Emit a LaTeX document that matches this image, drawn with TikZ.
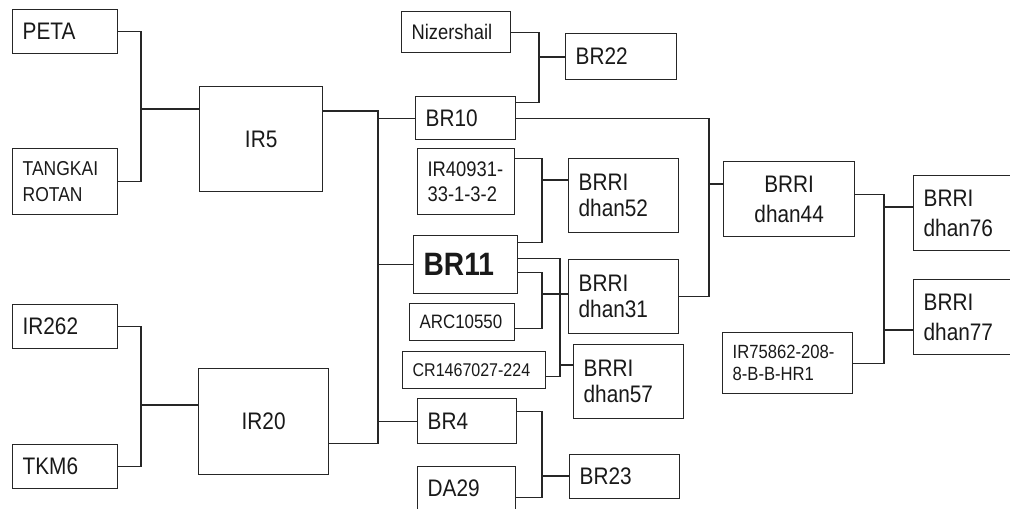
\documentclass[tikz,border=0pt]{standalone}
\usepackage{fontspec}
\setmainfont{Liberation Sans}[FakeStretch=0.87]
\usetikzlibrary{positioning,calc}
\newlength\pxu
\setlength\pxu{0.7113pt}
\newcommand\fs[2]{\fontsize{#1}{#2}\selectfont}
\tikzset{
  cell/.style 2 args={draw=black!85,line width=0.9pt,anchor=north west,align=left,text=black!90,
    inner xsep=10*\pxu,inner ysep=0pt,minimum width=#1*\pxu,minimum height=#2*\pxu,
    text width=(#1-20)*\pxu,font=\fs{17}{18.5}},
  link/.style={draw=black!85,line width=0.8pt},
}

\begin{document}
\begin{tikzpicture}[x=0.025cm,y=-0.025cm]
  \useasboundingbox (0,0) rectangle (1010,508);
  \clip (0,0) rectangle (1010,508);
  % parents
  \node[cell={105}{44}] (peta) at (12,9) {PETA};
  \node[cell={105}{66},font=\fs{14.3}{18.5}] (tangkai) at (12,148) {TANGKAI\\ROTAN};
  \node[cell={105}{44}] (ir262) at (12,304) {IR262};
  \node[cell={105}{44}] (tkm6) at (12,444) {TKM6};
  \node[cell={123}{105},align=center] (ir5) at (199,86) {IR5};
  \node[cell={130}{106},align=center] (ir20) at (198,368) {IR20};
  % middle column
  \node[cell={109}{41},font=\fs{15}{16}] (nizer) at (401,11) {Nizershail};
  \node[cell={100}{43}] (br10) at (415,96) {BR10};
  \node[cell={97}{66},font=\fs{15}{18}] (ir40931) at (417,148) {IR40931-\\33-1-3-2};
  \node[cell={104}{58},font=\bfseries\fs{23}{24}] (br11) at (413,235) {BR11};
  \node[cell={105}{37},font=\fs{13.8}{15}] (arc) at (409,303) {ARC10550};
  \node[cell={143}{37},font=\fs{13.1}{14}] (cr) at (402,351) {CR1467027-224};
  \node[cell={99}{45}] (br4) at (417,398) {BR4};
  \node[cell={98}{44}] (da29) at (417,466) {DA29};
  % varieties
  \node[cell={111}{46}] (br22) at (565,33) {BR22};
  \node[cell={110}{74}] (dhan52) at (568,158) {BRRI\\dhan52};
  \node[cell={110}{74}] (dhan31) at (568,259) {BRRI\\dhan31};
  \node[cell={110}{74}] (dhan57) at (573,344) {BRRI\\dhan57};
  \node[cell={110}{44}] (br23) at (569,454) {BR23};
  \node[cell={131}{75},align=center,font=\fs{17}{21}] (dhan44) at (723,161) {BRRI\\dhan44};
  \node[cell={130}{61},font=\fs{13.6}{15.5}] (ir75862) at (722,332) {IR75862-208-\\8-B-B-HR1};
  \node[cell={102}{75},font=\fs{17}{21}] (dhan76) at (913,175) {BRRI\\dhan76};
  \node[cell={102}{75},font=\fs{17}{21}] (dhan77) at (913,279) {BRRI\\dhan77};

  % crosses
  \coordinate (ja) at (141,109);
  \draw[link] (peta.east) -| (ja) |- (tangkai.east);
  \draw[link] (ja) -- (ir5.west |- ja);
  \coordinate (jb) at (141,405);
  \draw[link] (ir262.east) -| (jb) |- (tkm6.east);
  \draw[link] (jb) -- (ir20.west |- jb);
  \coordinate (jc) at (378,262);
  \draw[link] ([yshift=20pt]ir5.east) -| (jc) |- ([yshift=-15.6pt]ir20.east);
  \draw[link] (br10.west -| jc) -- (br10.west);
  \draw[link] (br11.west -| jc) -- (br11.west);
  \draw[link] (br4.west -| jc) -- (br4.west);
  \coordinate (jd) at (539,57);
  \draw[link] (nizer.east) -| (jd) |- ([yshift=11pt]br10.east);
  \draw[link] (jd) -- (br22.west |- jd);
  \coordinate (je) at (709,184);
  \draw[link] (br10.east) -| (je) |- (dhan31.east);
  \draw[link] (je) -- (dhan44.west |- je);
  \coordinate (jf) at (542,180);
  \draw[link] ([yshift=16.4pt]ir40931.east) -| (jf) |- ([yshift=15.6pt]br11.east);
  \draw[link] (jf) -- (dhan52.west |- jf);
  \coordinate (jg) at (542,294);
  \draw[link] ([yshift=-5.7pt]br11.east) -| (jg) |- ([yshift=-4.6pt]arc.east);
  \draw[link] (jg) -- (dhan31.west |- jg);
  \coordinate (jh) at (560,365);
  \draw[link] ([yshift=4.3pt]br11.east) -| (jh) |- ([yshift=-4.6pt]cr.east);
  \draw[link] (jh) -- (dhan57.west |- jh);
  \coordinate (ji) at (542,476);
  \draw[link] ([yshift=6.8pt]br4.east) -| (ji) |- ([yshift=-6.4pt]da29.east);
  \draw[link] (ji) -- (br23.west |- ji);
  \coordinate (jj) at (884,207);
  \coordinate (jk) at (884,330);
  \draw[link] ([yshift=3pt]dhan44.east) -| (jj) |- (ir75862.east);
  \draw[link,line width=1.2pt] (jj) -- (dhan76.west |- jj);
  \draw[link] (jk) -- (dhan77.west |- jk);
\end{tikzpicture}
\end{document}
